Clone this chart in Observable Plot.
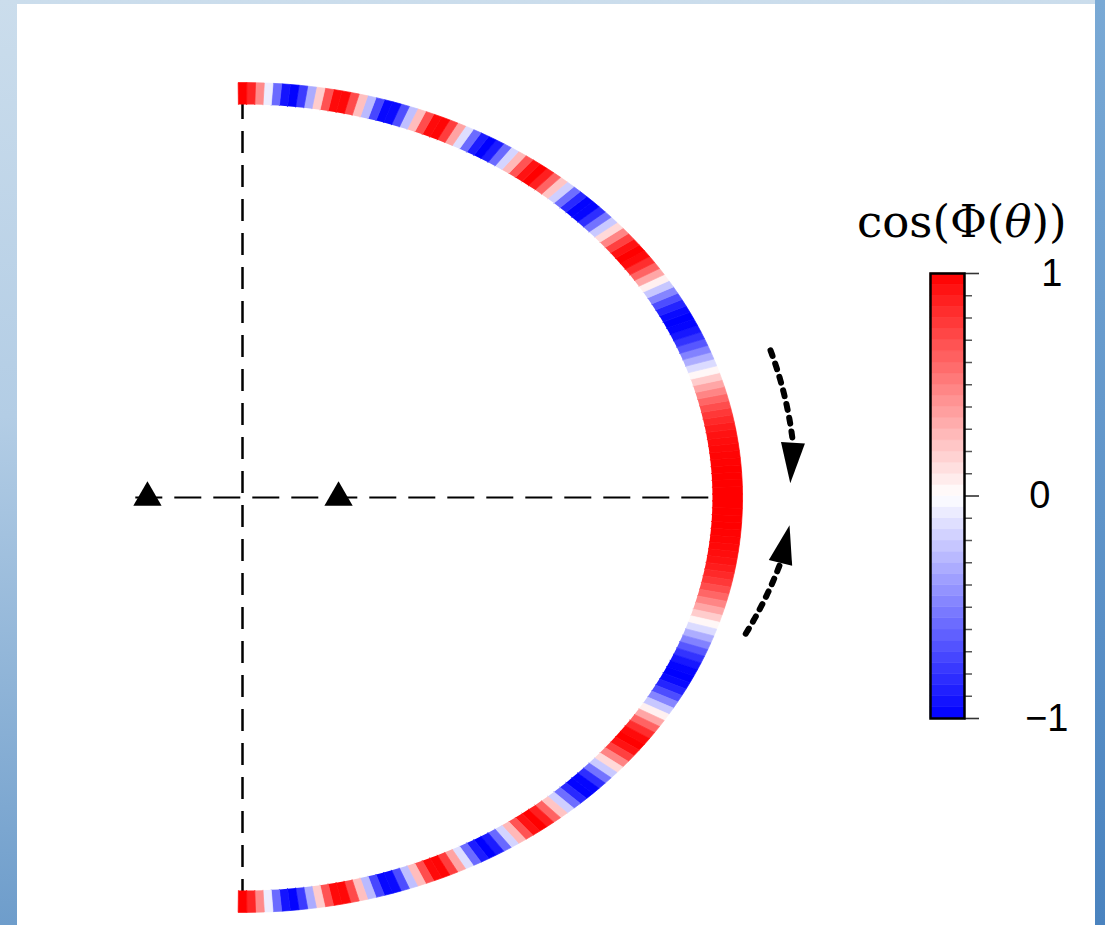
<!DOCTYPE html>
<html>
<head>
<meta charset="utf-8">
<script src="https://cdn.jsdelivr.net/npm/d3@7"></script>
<script src="https://cdn.jsdelivr.net/npm/@observablehq/plot@0.6"></script>
<style>
  html, body { margin: 0; padding: 0; width: 1105px; height: 925px; overflow: hidden; }
  body { position: relative; background: linear-gradient(to bottom, #cbddec 0%, #b3cde5 45%, #6e9dcb 100%); }
  #rstrip { position: absolute; left: 1095px; top: 0; width: 10px; height: 925px; background: linear-gradient(to bottom, #79a9d5, #4a83bf); }
  #panel { position: absolute; left: 17px; top: 4px; width: 1078px; height: 921px; background: #ffffff; }
  #main { position: absolute; left: 0; top: 0; }
  #cbar { position: absolute; left: 900px; top: 250px; }
  #cbtitle { position: absolute; left: 857px; top: 202px; font-family: "DejaVu Serif", serif; font-size: 45px; line-height: 40px; color: #000; white-space: nowrap; }
  #cbtitle i { font-style: italic; }
</style>
</head>
<body>
<div id="rstrip"></div>
<div id="panel"></div>
<div id="main"></div>
<div id="cbtitle">cos(Φ(<i>θ</i>))</div>
<div id="cbar"></div>
<script>
// ---------------- data ----------------
// polar angle of each arc cell (degrees), upper half (0 = rightmost point, 90 = top end)
const cellAnglesTop = d3.range(0, 91);
// cos(Φ(θ)) of each upper cell
const cosPhiTop = [
  1.00, 1.00, 1.00, 1.00, 1.00, 0.99, 0.98, 0.97, 0.95, 0.93,
  0.89, 0.84, 0.78, 0.70, 0.60, 0.48, 0.35, 0.20, 0.03, -0.14,
  -0.32, -0.49, -0.66, -0.80, -0.91, -0.98, -1.00, -0.96, -0.86, -0.70,
  -0.48, -0.22, 0.06, 0.35, 0.61, 0.82, 0.96, 1.00, 0.93, 0.75,
  0.48, 0.15, -0.21, -0.55, -0.82, -0.98, -0.99, -0.84, -0.57, -0.19,
  0.23, 0.61, 0.88, 1.00, 0.93, 0.67, 0.28, -0.17, -0.59, -0.89,
  -1.00, -0.89, -0.58, -0.13, 0.36, 0.76, 0.98, 0.96, 0.70, 0.26,
  -0.25, -0.70, -0.96, -0.97, -0.72, -0.27, 0.25, 0.71, 0.97, 0.96,
  0.68, 0.20, -0.33, -0.77, -0.99, -0.92, -0.58, -0.07, 0.46, 0.85,
  1.00
];
// lower half (angles -1 .. -90), the picture is mirror-symmetric
const cellAnglesBottom = d3.range(-1, -91, -1);
const cosPhiBottom = [
  1.00, 1.00, 1.00, 1.00, 0.99, 0.98, 0.97, 0.95, 0.93,
  0.89, 0.84, 0.78, 0.70, 0.60, 0.48, 0.35, 0.20, 0.03, -0.14,
  -0.32, -0.49, -0.66, -0.80, -0.91, -0.98, -1.00, -0.96, -0.86, -0.70,
  -0.48, -0.22, 0.06, 0.35, 0.61, 0.82, 0.96, 1.00, 0.93, 0.75,
  0.48, 0.15, -0.21, -0.55, -0.82, -0.98, -0.99, -0.84, -0.57, -0.19,
  0.23, 0.61, 0.88, 1.00, 0.93, 0.67, 0.28, -0.17, -0.59, -0.89,
  -1.00, -0.89, -0.58, -0.13, 0.36, 0.76, 0.98, 0.96, 0.70, 0.26,
  -0.25, -0.70, -0.96, -0.97, -0.72, -0.27, 0.25, 0.71, 0.97, 0.96,
  0.68, 0.20, -0.33, -0.77, -0.99, -0.92, -0.58, -0.07, 0.46, 0.85,
  1.00
];
// source markers on the horizontal axis (units of the arc radius)
const triangleX = [-0.196, 0.198];
// curved arrows: start angle, end (base) angle, radii, tip angle/radius (degrees, radius units)
const arrowArcs = [
  {id: "up",   a0: 18.5,  a1: 6.8,  r0: 1.148, r1: 1.143, tipA: 1.8,  tipR: 1.130},
  {id: "down", a0: -18.0, a1: -8.3, r0: 1.091, r1: 1.121, tipA: -3.5, tipR: 1.130}
];
// colour bar
const cbarTicksMinor = [-0.9,-0.8,-0.7,-0.6,-0.5,-0.4,-0.3,-0.2,-0.1,0.1,0.2,0.3,0.4,0.5,0.6,0.7,0.8,0.9];
const cbarTicksMajor = [1, 0, -1];
const cbarTickLabels = ["1", "0", "\u22121"];
const cbarStep = 0.05;

// ---------------- geometry helpers ----------------
const W = 1105, H = 925;
const cx = 242, cy = 497, ax = 485, by = 404; // pixel centre and semi-axes of the unit arc
const rad = d => d * Math.PI / 180;
const RIN_X = 0.969, RIN_Y = 0.973, ROUT_X = 1.031, ROUT_Y = 1.027, HALF = 0.5;

const cells = [];
function addCells(angles, values, tag) {
  angles.forEach((t, i) => {
    const a = rad(t - HALF), b = rad(t + HALF);
    const id = tag + i, v = values[i];
    cells.push({id, v, x: RIN_X * Math.cos(a), y: RIN_Y * Math.sin(a)});
    cells.push({id, v, x: ROUT_X * Math.cos(a), y: ROUT_Y * Math.sin(a)});
    cells.push({id, v, x: ROUT_X * Math.cos(b), y: ROUT_Y * Math.sin(b)});
    cells.push({id, v, x: RIN_X * Math.cos(b), y: RIN_Y * Math.sin(b)});
  });
}
addCells(cellAnglesTop, cosPhiTop, "t");
addCells(cellAnglesBottom, cosPhiBottom, "b");

const arrowPts = [];
const arrowHeads = [];
for (const A of arrowArcs) {
  const n = 40;
  for (let k = 0; k <= n; k++) {
    const f = k / n, a = A.a0 + (A.a1 - A.a0) * f, r = A.r0 + (A.r1 - A.r0) * f;
    arrowPts.push({id: A.id, x: r * Math.cos(rad(a)), y: r * Math.sin(rad(a))});
  }
  // head: triangle from base centre to tip, computed in pixel space then back to data
  const bx = A.r1 * Math.cos(rad(A.a1)), byy = A.r1 * Math.sin(rad(A.a1));
  const tx = A.tipR * Math.cos(rad(A.tipA)), ty = A.tipR * Math.sin(rad(A.tipA));
  const dxp = (tx - bx) * ax, dyp = -(ty - byy) * by;
  const L = Math.hypot(dxp, dyp), ux = dxp / L, uy = dyp / L;
  const hw = 12;
  const px = -uy * hw, py = ux * hw;
  arrowHeads.push({id: A.id, x: bx + px / ax, y: byy - py / by});
  arrowHeads.push({id: A.id, x: tx, y: ty});
  arrowHeads.push({id: A.id, x: bx - px / ax, y: byy + py / by});
}

const colorScale = {type: "linear", domain: [-1, 0, 1], range: ["#0000ff", "#ffffff", "#ff0000"], interpolate: "rgb"};

const main = Plot.plot({
  width: W, height: H, margin: 0,
  x: {domain: [-cx / ax, (W - cx) / ax], axis: null},
  y: {domain: [-(H - cy) / by, cy / by], axis: null},
  color: colorScale,
  style: {background: "transparent"},
  marks: [
    Plot.ruleX([0], {y1: -1, y2: 1, stroke: "#000", strokeWidth: 2.5, strokeDasharray: "22,12"}),
    Plot.ruleY([0], {x1: -0.22, x2: 1, stroke: "#000", strokeWidth: 2.2, strokeDasharray: "27,12"}),
    Plot.line(cells, {x: "x", y: "y", z: "id", fill: "v", stroke: "v", strokeWidth: 0.7, curve: "linear"}),
    Plot.dot(triangleX, {x: d => d, y: 0, symbol: "triangle", r: 10.5, fill: "#000", stroke: "none"}),
    Plot.line(arrowPts, {x: "x", y: "y", z: "id", stroke: "#000", strokeWidth: 6, strokeDasharray: "6,8", curve: "linear"}),
    Plot.line(arrowHeads, {x: "x", y: "y", z: "id", fill: "#000", stroke: "none", curve: "linear"})
  ]
});
document.getElementById("main").appendChild(main);

const bands = d3.range(-1, 1 - 1e-9, cbarStep).map(lo => ({lo, hi: lo + cbarStep, mid: lo + cbarStep / 2}));
const barPx = 34;
const labelRight = [1062, 1050, 1068]; // right edge (page px) of each tick label
const cb = Plot.plot({
  width: 200, height: 500,
  marginLeft: 30, marginRight: 136, marginTop: 23, marginBottom: 32,
  x: {domain: [0, 1], axis: null},
  y: {domain: [-1, 1], axis: null},
  color: colorScale,
  style: {background: "transparent", overflow: "visible"},
  marks: [
    Plot.rect(bands, {x1: 0, x2: 1, y1: "lo", y2: "hi", fill: "mid", stroke: "mid", strokeWidth: 0.5}),
    Plot.ruleY(cbarTicksMinor, {x1: 1, x2: 1 + 8 / barPx, stroke: "#555", strokeWidth: 1.5}),
    Plot.ruleY(cbarTicksMajor, {x1: 1, x2: 1 + 15 / barPx, stroke: "#333", strokeWidth: 1.6}),
    Plot.frame({stroke: "#000", strokeWidth: 2.5}),
    Plot.text(cbarTicksMajor, {x: (d, i) => (labelRight[i] - 930) / barPx, y: d => d, text: (d, i) => cbarTickLabels[i], fontSize: 38, textAnchor: "end", fontFamily: "Liberation Sans", fill: "#000"})
  ]
});
document.getElementById("cbar").appendChild(cb);
</script>
</body>
</html>
